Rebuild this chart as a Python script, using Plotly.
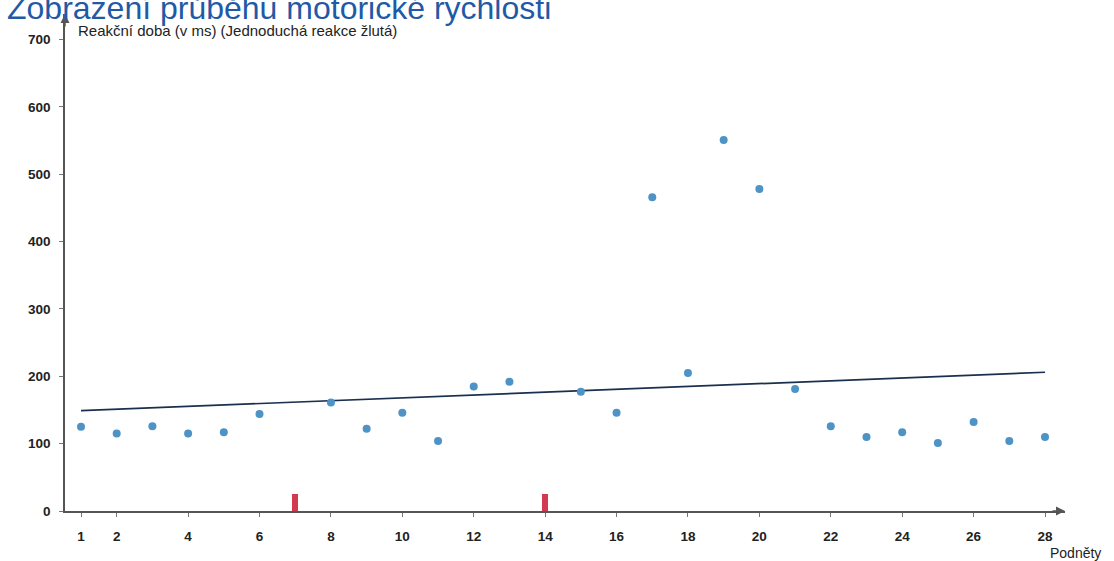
import plotly.graph_objects as go

# Data
stimuli = list(range(1, 29))
reaction_ms = [125, 115, 126, 115, 117, 144, None, 161, 122, 146, 104, 185, 192, None,
               177, 146, 466, 205, 551, 478, 181, 126, 110, 117, 101, 132, 104, 110]
error_x = [7, 14]
error_h = [25, 25]
trend_x = [1, 28]
trend_y = [149, 206]
x_tickvals = [1, 2, 4, 6, 8, 10, 12, 14, 16, 18, 20, 22, 24, 26, 28]
y_tickvals = [0, 100, 200, 300, 400, 500, 600, 700]

title_text = "Zobrazení průběhu motorické rychlosti"
y_title = "Reakční doba (v ms) (Jednoduchá reakce žlutá)"
x_title = "Podněty"

fig = go.Figure()
fig.add_trace(go.Bar(x=error_x, y=error_h, width=0.17, marker=dict(color="#d23a50", line=dict(width=0)),
                     showlegend=False, hoverinfo="skip"))
fig.add_trace(go.Scatter(x=trend_x, y=trend_y, mode="lines", line=dict(color="#1b2f4e", width=1.7),
                         showlegend=False))
fig.add_trace(go.Scatter(x=stimuli, y=reaction_ms, mode="markers",
                         marker=dict(color="#4e93c6", size=8), showlegend=False))

axis_font = dict(family="Arial, Liberation Sans", size=13.5, color="#222222")
fig.update_layout(
    width=1114, height=561,
    margin=dict(l=65, r=49, t=14, b=50),
    paper_bgcolor="white", plot_bgcolor="white",
    font=dict(family="Arial, Liberation Sans", color="#222222"),
    xaxis=dict(range=[0.552, 28.56], tickvals=x_tickvals, ticktext=[f"<b>{v}</b>" for v in x_tickvals],
               showgrid=False, zeroline=False, showline=True, linecolor="#555555", linewidth=1.5,
               ticks="outside", ticklen=4, tickcolor="#777777", tickfont=axis_font, ticklabelstandoff=8),
    yaxis=dict(range=[0, 738], tickvals=y_tickvals, ticktext=[f"<b>{v}</b>" for v in y_tickvals],
               showgrid=False, zeroline=False, showline=True, linecolor="#555555", linewidth=1.5,
               ticks="outside", ticklen=4, tickcolor="#777777", tickfont=axis_font, ticklabelstandoff=6),
    bargap=0,
)

# axis arrows
fig.add_annotation(xref="paper", yref="paper", x=1.0, y=0, ax=-14, ay=0, showarrow=True,
                   arrowhead=2, arrowsize=1.2, arrowwidth=1.5, arrowcolor="#555555", text="")
fig.add_annotation(xref="paper", yref="paper", x=0, y=1.0, ax=0, ay=14, showarrow=True,
                   arrowhead=2, arrowsize=1.2, arrowwidth=1.5, arrowcolor="#555555", text="")

# axis titles
fig.add_annotation(xref="paper", yref="paper", x=0.011, y=0.966, xanchor="left", yanchor="middle",
                   text=y_title, showarrow=False, font=dict(size=15, color="#222222"))
fig.add_annotation(xref="paper", yref="paper", x=1.038, y=-0.0845, xanchor="right", yanchor="middle",
                   text=x_title, showarrow=False, font=dict(size=14, color="#222222"))

# title, cut off at the top edge as in the reference
fig.add_annotation(xref="paper", yref="paper", x=-0.06, y=1.013, xanchor="left", yanchor="middle",
                   text=title_text, showarrow=False,
                   font=dict(family="Arial, Liberation Sans", size=32, color="#1f5aa6"))

fig.write_html("out.html", config={"displayModeBar": False},
               post_script="document.body.style.margin='0px';")
